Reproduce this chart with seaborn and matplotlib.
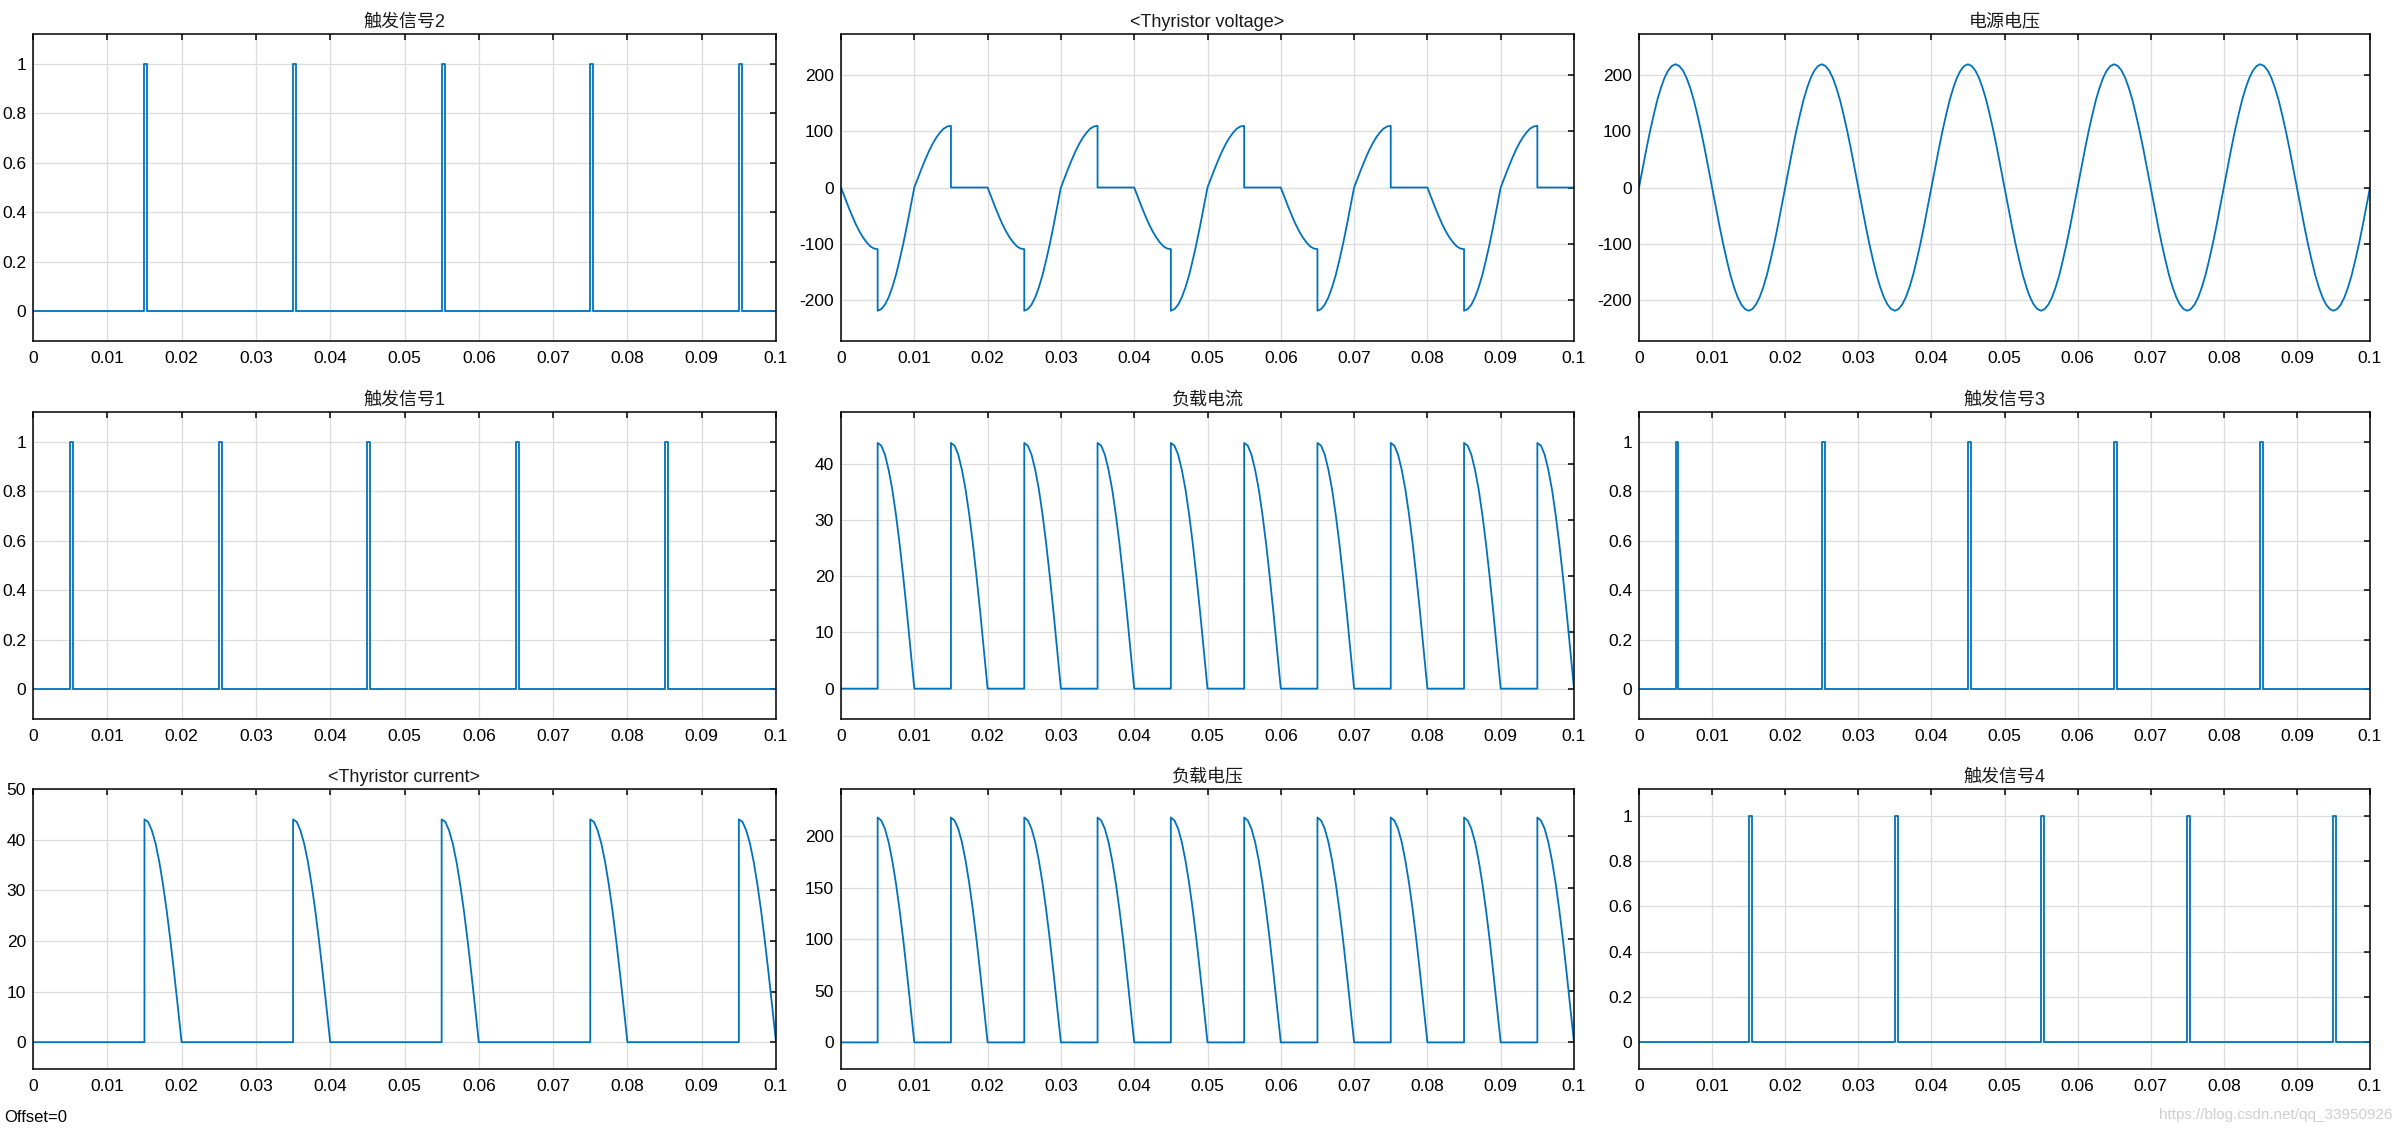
import numpy as np
import pandas as pd
import matplotlib
matplotlib.use("Agg")
import matplotlib.pyplot as plt
from matplotlib.ticker import FormatStrFormatter
import seaborn as sns

# ---------------- data ----------------
PERIOD = 0.02          # one mains period (s)
HALF = 0.01
N_PERIODS = 5
STEP = 0.0005          # sample spacing of the read waveforms

# source voltage, one period sampled every 0.5 ms
source_period = [0, 34, 68, 100, 129, 156, 178, 196, 209, 217,
                 220, 217, 209, 196, 178, 156, 129, 100, 68, 34,
                 0, -34, -68, -100, -129, -156, -178, -196, -209, -217,
                 -220, -217, -209, -196, -178, -156, -129, -100, -68, -34]

# load current / load voltage, one half-period (0..0.01 s)
load_half_t = [0.0, 0.005, 0.005, 0.0055, 0.006, 0.0065, 0.007, 0.0075,
               0.008, 0.0085, 0.009, 0.0095, 0.01]
load_current_half = [0, 0, 43.7, 43.2, 41.6, 38.9, 35.4, 30.9, 25.7, 19.8, 13.5, 6.8, 0]
load_voltage_half = [0, 0, 218, 215, 207, 194, 176, 154, 128, 99, 67, 34, 0]

# thyristor current, one period (0..0.02 s)
thy_i_t = [0.0, 0.015, 0.015, 0.0155, 0.016, 0.0165, 0.017, 0.0175,
           0.018, 0.0185, 0.019, 0.0195, 0.02]
thy_i_v = [0, 0, 44.0, 43.5, 41.8, 39.2, 35.6, 31.1, 25.9, 20.0, 13.6, 6.9, 0]

# thyristor voltage, one period (0..0.02 s)
thy_v_t = [0.0, 0.0005, 0.001, 0.0015, 0.002, 0.0025, 0.003, 0.0035, 0.004, 0.0045, 0.005,
           0.005, 0.0055, 0.006, 0.0065, 0.007, 0.0075, 0.008, 0.0085, 0.009, 0.0095, 0.01,
           0.0105, 0.011, 0.0115, 0.012, 0.0125, 0.013, 0.0135, 0.014, 0.0145, 0.015,
           0.015, 0.02]
thy_v_v = [0, -17, -34, -50, -65, -78, -89, -98, -105, -109, -110,
           -220, -217, -209, -196, -178, -156, -129, -100, -68, -34, 0,
           17, 34, 50, 65, 78, 89, 98, 105, 109, 110,
           0, 0]

# trigger pulses
PULSE_WIDTH = 0.0004
trig1_starts = [0.005, 0.025, 0.045, 0.065, 0.085]
trig2_starts = [0.015, 0.035, 0.055, 0.075, 0.095]
trig3_starts = [0.005, 0.025, 0.045, 0.065, 0.085]
trig4_starts = [0.015, 0.035, 0.055, 0.075, 0.095]

titles = [["触发信号2", "<Thyristor voltage>", "电源电压"],
          ["触发信号1", "负载电流", "触发信号3"],
          ["<Thyristor current>", "负载电压", "触发信号4"]]

x_ticks = [0, 0.01, 0.02, 0.03, 0.04, 0.05, 0.06, 0.07, 0.08, 0.09, 0.1]
trig_ticks = [0, 0.2, 0.4, 0.6, 0.8, 1]
volt_ticks = [-200, -100, 0, 100, 200]
load_i_ticks = [0, 10, 20, 30, 40]
thy_i_ticks = [0, 10, 20, 30, 40, 50]
load_v_ticks = [0, 50, 100, 150, 200]


# ---------------- build series ----------------
def tile(t_list, v_list, period, n):
    t = np.concatenate([np.asarray(t_list) + k * period for k in range(n)])
    v = np.concatenate([np.asarray(v_list, dtype=float) for _ in range(n)])
    return pd.DataFrame({"t": t, "v": v})


def pulses(starts):
    t, v = [0.0], [0.0]
    for s in starts:
        t += [s, s, s + PULSE_WIDTH, s + PULSE_WIDTH]
        v += [0, 1, 1, 0]
    t.append(0.1)
    v.append(0)
    return pd.DataFrame({"t": t, "v": v})


src_vals = source_period * N_PERIODS + [0]
source_df = pd.DataFrame({"t": np.arange(len(src_vals)) * STEP, "v": src_vals})
load_i_df = tile(load_half_t, load_current_half, HALF, 2 * N_PERIODS)
load_v_df = tile(load_half_t, load_voltage_half, HALF, 2 * N_PERIODS)
thy_i_df = tile(thy_i_t, thy_i_v, PERIOD, N_PERIODS)
thy_v_df = tile(thy_v_t, thy_v_v, PERIOD, N_PERIODS)

panels = [
    [(pulses(trig2_starts), (-0.12, 1.12), trig_ticks),
     (thy_v_df, (-274, 274), volt_ticks),
     (source_df, (-274, 274), volt_ticks)],
    [(pulses(trig1_starts), (-0.12, 1.12), trig_ticks),
     (load_i_df, (-5.4, 49.2), load_i_ticks),
     (pulses(trig3_starts), (-0.12, 1.12), trig_ticks)],
    [(thy_i_df, (-5.3, 50), thy_i_ticks),
     (load_v_df, (-25.8, 245.6), load_v_ticks),
     (pulses(trig4_starts), (-0.12, 1.12), trig_ticks)],
]

# ---------------- style ----------------
sns.set_style("white")
plt.rcParams["font.family"] = ["Liberation Sans", "Noto Sans CJK SC", "DejaVu Sans"]
plt.rcParams["axes.unicode_minus"] = False

W, H = 2400, 1133
fig = plt.figure(figsize=(W / 100, H / 100), dpi=100)

col_px = [(33, 776), (841, 1574), (1639, 2370)]
row_px = [(34, 341), (412, 719), (789, 1069)]

LINE = "#0072BD"

for r in range(3):
    for c in range(3):
        x0, x1 = col_px[c]
        y0, y1 = row_px[r]
        ax = fig.add_axes([x0 / W, 1 - y1 / H, (x1 - x0) / W, (y1 - y0) / H])
        df, ylim, yt = panels[r][c]
        sns.lineplot(data=df, x="t", y="v", estimator=None, sort=False,
                     color=LINE, linewidth=1.3, ax=ax)
        ax.set_xlim(0, 0.1)
        ax.set_ylim(*ylim)
        ax.set_xticks(x_ticks)
        ax.set_yticks(yt)
        ax.xaxis.set_major_formatter(FormatStrFormatter("%g"))
        ax.yaxis.set_major_formatter(FormatStrFormatter("%g"))
        ax.set_xlabel("")
        ax.set_ylabel("")
        ax.grid(True, color="#DCDCDC", linewidth=0.9)
        ax.set_axisbelow(True)
        for sp in ax.spines.values():
            sp.set_visible(True)
            sp.set_color("black")
            sp.set_linewidth(1.1)
        ax.tick_params(axis="both", direction="in", length=4.5, width=1.1,
                       top=True, right=True, labelsize=12.5, colors="black")
        ax.tick_params(axis="x", pad=7)
        ax.tick_params(axis="y", pad=5)
        ax.set_title(titles[r][c], fontsize=13, color="#1a1a1a", pad=5)

fig.text(4 / W, 1 - 1117 / H, "Offset=0", fontsize=12, va="center", ha="left", color="black")
fig.text(2392 / W, 1 - 1115 / H, "https://blog.csdn.net/qq_33950926", fontsize=11,
         va="center", ha="right", color="#CFCFCF")

fig.savefig("out.png", dpi=100, facecolor="white")
